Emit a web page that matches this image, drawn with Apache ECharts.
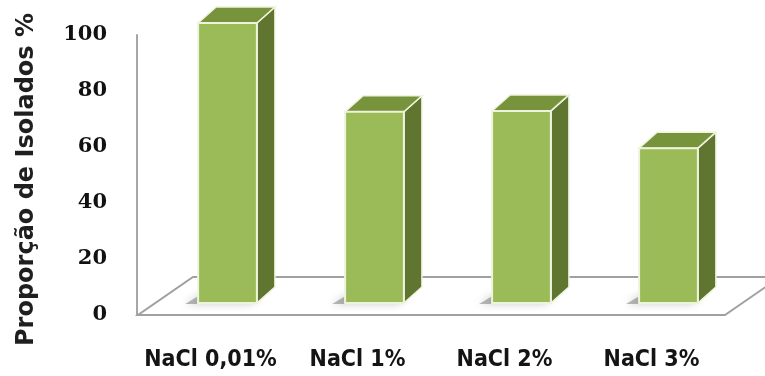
<!DOCTYPE html>
<html>
<head>
<meta charset="utf-8">
<script src="https://cdn.jsdelivr.net/npm/echarts@6/dist/echarts.min.js"></script>
<style>
  html, body { margin: 0; padding: 0; background: #ffffff; }
  #chart { width: 765px; height: 376px; }
</style>
</head>
<body>
<div id="chart"></div>
<script>
// Salinity treatments and share of isolates (%)
const categories = ['NaCl 0,01%', 'NaCl 1%', 'NaCl 2%', 'NaCl 3%'];
const proportions = [100, 68.3, 68.6, 55.3];
const yTicks = { min: 0, max: 100, step: 20 };
const yTitle = 'Proporção de Isolados %';

// pseudo-3D look: floor depth and bar depth, in pixels
const FLOOR_DX = 55, FLOOR_DY = -38;
const BAR_SHIFT_X = 17, BAR_SHIFT_Y = -12;
const BAR_DX = 18, BAR_DY = -16;
const FRONT = '#9bbb59', TOP = '#77933c', SIDE = '#5f7530', EDGE = '#eef4dc';

const chart = echarts.init(document.getElementById('chart'), null, { renderer: 'canvas' });

function renderFloor(params, api) {
  const cs = params.coordSys;
  const x0 = cs.x + 1, x1 = cs.x + cs.width, y = cs.y + cs.height;
  return {
    type: 'polygon',
    shape: { points: [[x0, y], [x1, y], [x1 + FLOOR_DX, y + FLOOR_DY], [x0 + FLOOR_DX, y + FLOOR_DY]] },
    style: { fill: '#ffffff', stroke: '#a0a0a0', lineWidth: 2 }
  };
}

function renderBar(params, api) {
  const i = api.value(0);
  const top = api.coord([i, api.value(1)]);
  const base = api.coord([i, 0]);
  const w = api.size([1, 0])[0] * 0.4;
  const xl = top[0] + BAR_SHIFT_X - w / 2;
  const xr = xl + w;
  const yt = top[1] + BAR_SHIFT_Y;
  const yb = base[1] + BAR_SHIFT_Y;
  return {
    type: 'group',
    children: [
      { // soft shadow on the floor
        type: 'polygon',
        shape: { points: [[xl - 13, yb + 1], [xr - 6, yb + 1], [xr + 4, yb - 8], [xl + 2, yb - 8]] },
        style: { fill: 'rgba(100,100,100,0.45)', shadowBlur: 9, shadowColor: 'rgba(0,0,0,0.45)' }
      },
      {
        type: 'polygon',
        shape: { points: [[xr, yt], [xr + BAR_DX, yt + BAR_DY], [xr + BAR_DX, yb + BAR_DY], [xr, yb]] },
        style: { fill: SIDE, stroke: EDGE, lineWidth: 1.5 }
      },
      {
        type: 'polygon',
        shape: { points: [[xl, yt], [xr, yt], [xr + BAR_DX, yt + BAR_DY], [xl + BAR_DX, yt + BAR_DY]] },
        style: { fill: TOP, stroke: EDGE, lineWidth: 1.5 }
      },
      {
        type: 'rect',
        shape: { x: xl, y: yt, width: w, height: yb - yt },
        style: { fill: FRONT, stroke: EDGE, lineWidth: 2 }
      }
    ]
  };
}

chart.setOption({
  animation: false,
  grid: { left: 137, right: 40, top: 35, bottom: 61 },
  xAxis: {
    type: 'category',
    data: categories,
    axisLine: { show: false },
    axisTick: { show: false },
    axisLabel: {
      interval: 0,
      margin: 34,
      color: '#141414',
      fontSize: 23,
      fontWeight: 'bold',
      fontFamily: '"DejaVu Sans Condensed", "DejaVu Sans", sans-serif'
    }
  },
  yAxis: {
    type: 'value',
    min: yTicks.min,
    max: yTicks.max,
    interval: yTicks.step,
    name: yTitle,
    nameLocation: 'middle',
    nameRotate: 90,
    nameGap: 98,
    nameTextStyle: {
      color: '#1f1f1f',
      fontSize: 24,
      fontWeight: 'bold',
      fontFamily: '"DejaVu Sans", sans-serif',
      padding: [0, 9, 0, 0]
    },
    axisLine: { show: true, lineStyle: { color: '#a6a6a6', width: 2 } },
    axisTick: { show: false },
    splitLine: { show: false },
    axisLabel: {
      margin: 30,
      color: '#111111',
      fontSize: 21,
      fontWeight: 'bold',
      fontFamily: '"DejaVu Serif", serif'
    }
  },
  series: [
    {
      type: 'custom',
      renderItem: renderFloor,
      data: [[0, 0]],
      z: 1,
      silent: true
    },
    {
      type: 'custom',
      renderItem: renderBar,
      data: proportions.map((v, i) => [i, v]),
      z: 2
    }
  ]
});
</script>
</body>
</html>
